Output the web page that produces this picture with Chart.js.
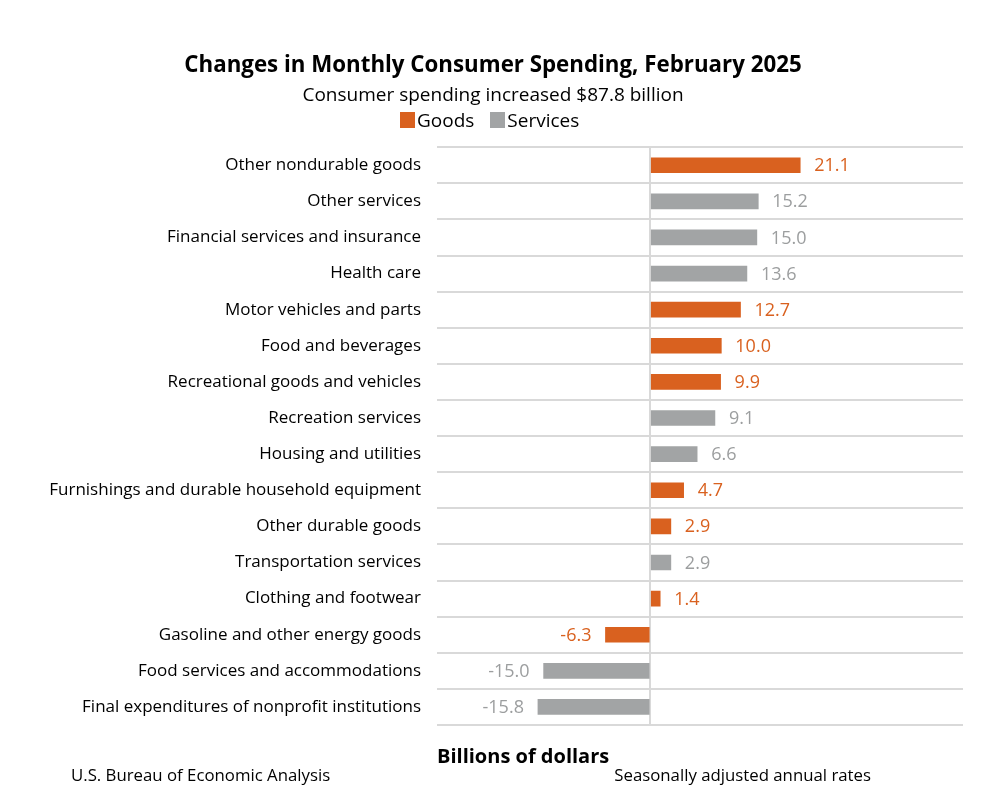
<!DOCTYPE html>
<html>
<head>
<meta charset="utf-8">
<script src="https://cdn.jsdelivr.net/npm/chart.js@4/dist/chart.umd.min.js"></script>
<style>
  html, body { margin: 0; padding: 0; background: #fff; }
  #wrap { position: relative; width: 986px; height: 810px; }
  #legend { position: absolute; left: 400px; top: 108px; display: flex; align-items: center;
            font-family: 'Open Sans', sans-serif; font-size: 19px; color: #000; line-height: 24px; }
  #legend .item { display: flex; align-items: center; margin-right: 16px; }
  #legend .box { width: 15px; height: 16px; margin-right: 2px; }
</style>
</head>
<body>
<div id="wrap"><canvas id="spendChart"></canvas><div id="legend"></div></div>
<script>
const categories = [
  'Other nondurable goods',
  'Other services',
  'Financial services and insurance',
  'Health care',
  'Motor vehicles and parts',
  'Food and beverages',
  'Recreational goods and vehicles',
  'Recreation services',
  'Housing and utilities',
  'Furnishings and durable household equipment',
  'Other durable goods',
  'Transportation services',
  'Clothing and footwear',
  'Gasoline and other energy goods',
  'Food services and accommodations',
  'Final expenditures of nonprofit institutions'
];
const goods    = [21.1, null, null, null, 12.7, 10.0, 9.9, null, null, 4.7, 2.9, null, 1.4, -6.3, null, null];
const services = [null, 15.2, 15.0, 13.6, null, null, null, 9.1, 6.6, null, null, 2.9, null, null, -15.0, -15.8];

const FONT = "'Open Sans', sans-serif";
const ORANGE = '#d9611f';
const GRAY = '#a2a4a5';
const GRID = '#d9d9d9';

// value labels next to each bar
const valueLabels = {
  id: 'valueLabels',
  afterDatasetsDraw(chart) {
    const ctx = chart.ctx;
    ctx.save();
    ctx.font = '18px ' + FONT;
    ctx.textBaseline = 'middle';
    chart.data.datasets.forEach((ds, i) => {
      const meta = chart.getDatasetMeta(i);
      meta.data.forEach((bar, j) => {
        const v = ds.data[j];
        if (v === null) return;
        ctx.fillStyle = ds.labelColor;
        if (v >= 0) {
          ctx.textAlign = 'left';
          ctx.fillText(v.toFixed(1), bar.x + 14, bar.y + 1);
        } else {
          ctx.textAlign = 'right';
          ctx.fillText(v.toFixed(1), bar.x - 14, bar.y + 1);
        }
      });
    });
    ctx.restore();
  }
};

// source and note under the chart
const footer = {
  id: 'footer',
  afterDraw(chart) {
    const ctx = chart.ctx;
    ctx.save();
    ctx.font = '16.8px ' + FONT;
    ctx.fillStyle = '#000';
    ctx.textBaseline = 'middle';
    ctx.textAlign = 'left';
    ctx.fillText('U.S. Bureau of Economic Analysis', 71, 776);
    ctx.textAlign = 'right';
    ctx.fillText('Seasonally adjusted annual rates', 871, 776);
    ctx.restore();
  }
};

const chart = new Chart(document.getElementById('spendChart'), {
  type: 'bar',
  data: {
    labels: categories,
    datasets: [
      { label: 'Goods', data: goods, backgroundColor: ORANGE, labelColor: ORANGE, barThickness: 15 },
      { label: 'Services', data: services, backgroundColor: GRAY, labelColor: '#9c9e9f', barThickness: 15 }
    ]
  },
  options: {
    indexAxis: 'y',
    responsive: true,
    maintainAspectRatio: false,
    animation: false,
    events: [],
    layout: { padding: { top: 0, left: 23, right: 23, bottom: 41 } },
    plugins: {
      title: {
        display: true,
        text: 'Changes in Monthly Consumer Spending, February 2025',
        color: '#000',
        font: { family: FONT, size: 22.3, weight: 'bold', lineHeight: 1.2 },
        padding: { top: 52.6, bottom: 6.3 }
      },
      subtitle: {
        display: true,
        text: 'Consumer spending increased $87.8 billion',
        color: '#000',
        font: { family: FONT, size: 19, lineHeight: 1 },
        padding: { top: 0, bottom: 42.5 }
      },
      legend: { display: false },
      tooltip: { enabled: false }
    },
    scales: {
      x: {
        stacked: true,
        min: -30,
        max: 44,
        ticks: { display: false, stepSize: 10 },
        border: { display: false },
        grid: {
          drawTicks: false,
          lineWidth: 2,
          color: c => (c.tick && c.tick.value === 0) ? GRID : 'rgba(0,0,0,0)'
        },
        title: {
          display: true,
          text: 'Billions of dollars',
          align: 'start',
          color: '#000',
          font: { family: FONT, size: 20, weight: 'bold', lineHeight: 1.2 },
          padding: { top: 20, bottom: 0 }
        }
      },
      y: {
        stacked: true,
        border: { display: false },
        grid: { drawTicks: false, color: GRID, lineWidth: 2 },
        ticks: {
          color: '#000',
          padding: 16,
          font: { family: FONT, size: 17 }
        },
        afterFit(scale) { scale.width = 414; }
      }
    }
  },
  plugins: [valueLabels, footer]
});

// html legend from the datasets
const legendEl = document.getElementById('legend');
chart.data.datasets.forEach(ds => {
  const item = document.createElement('div');
  item.className = 'item';
  item.innerHTML = `<span class="box" style="background:${ds.backgroundColor}"></span><span>${ds.label}</span>`;
  legendEl.appendChild(item);
});
</script>
</body>
</html>
